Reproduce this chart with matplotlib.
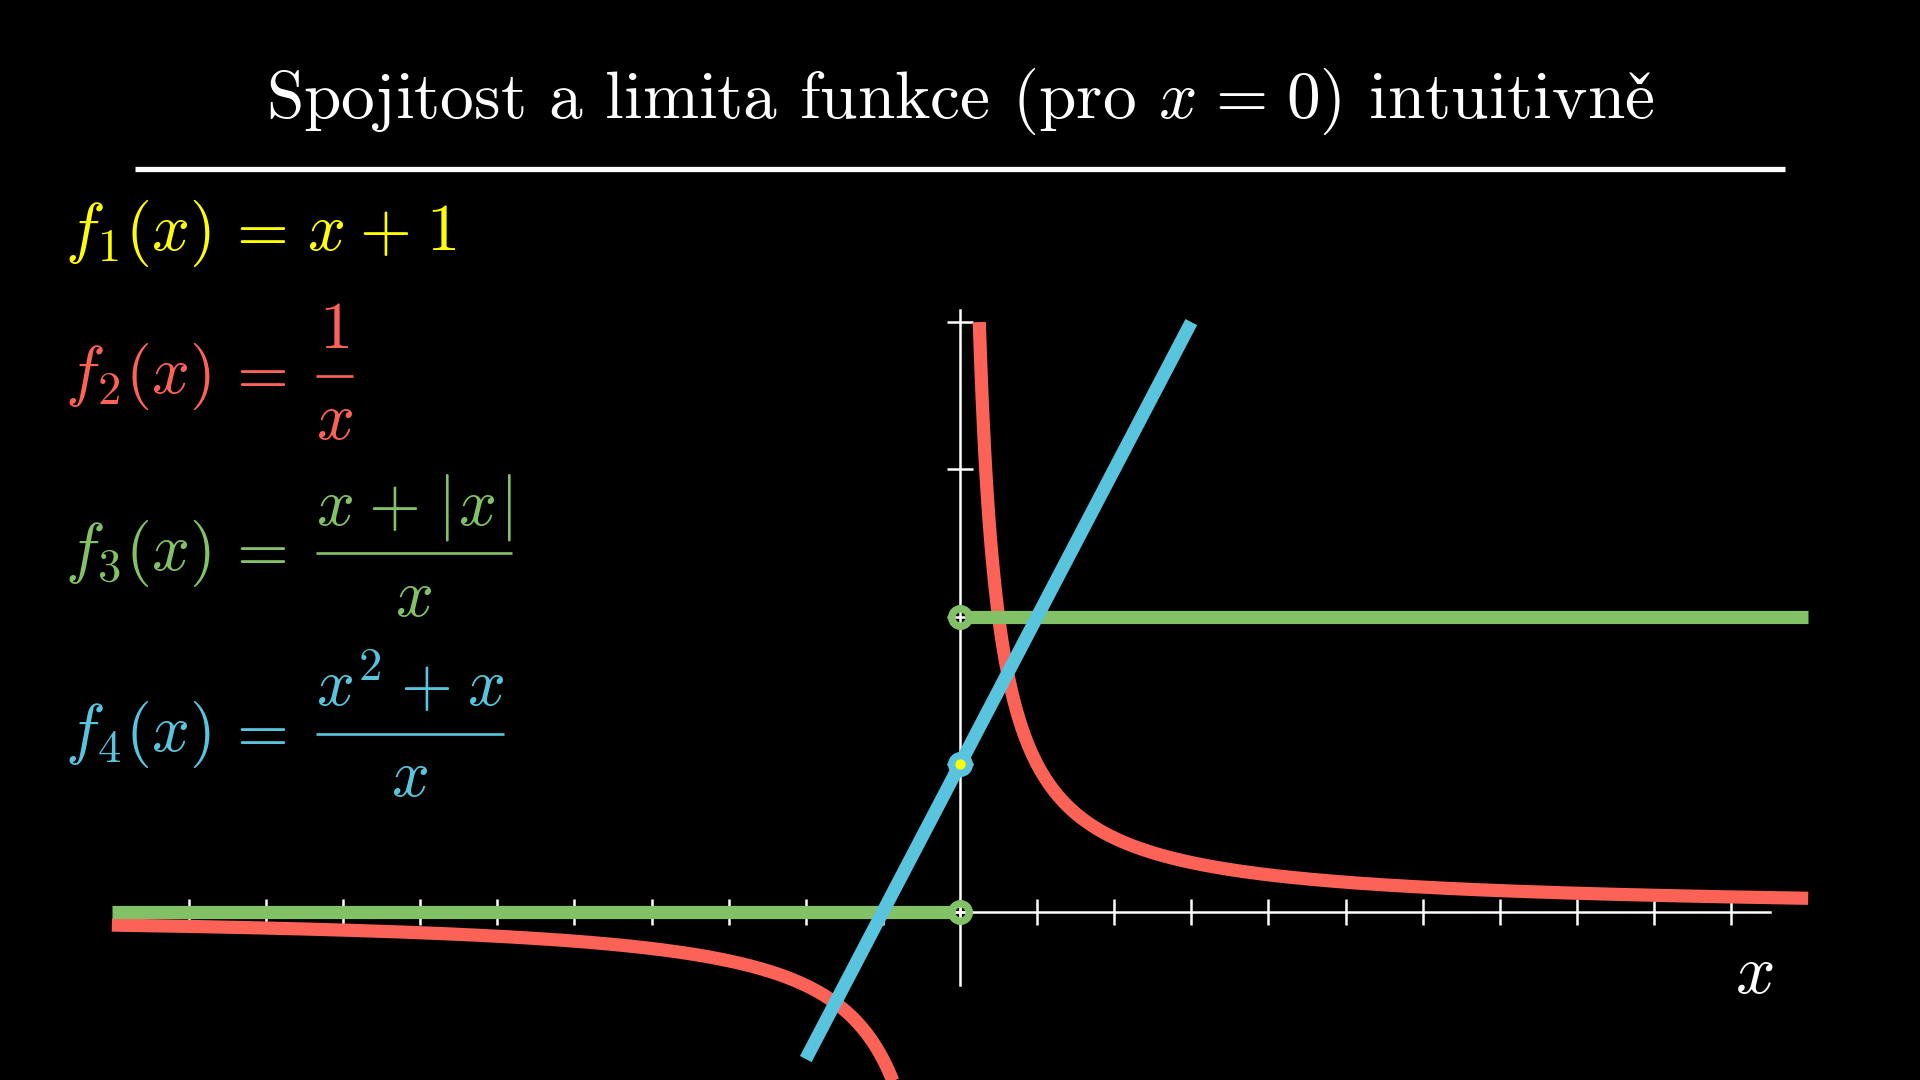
import numpy as np
import matplotlib
matplotlib.use("Agg")
import matplotlib.pyplot as plt
from matplotlib.lines import Line2D

plt.rcParams["mathtext.fontset"] = "cm"

W, H = 1920, 1080

# Colours of the four functions
YELLOW = "#FFFF00"
RED = "#FC6255"
GREEN = "#83C167"
BLUE = "#58C4DD"

# TeX-like spacing helpers (mathtext adds 0.2 of its em around = and +)
REL = r"\hspace{0.116}=\hspace{0.116}"
PLUS = r"\hspace{0.053}+\hspace{0.053}"

# Function definitions shown on the left
lhs = [r"$f_1(x)$", r"$f_2(x)$", r"$f_3(x)$", r"$f_4(x)$"]
rhs_inline = [r"$x" + PLUS + r"1$", None, None, None]
numerators = [None, r"$1$",
              r"$x" + PLUS + r"\hspace{0.03}|\hspace{0.05}x\hspace{0.05}|$",
              r"$x^2" + PLUS + r"x$"]
denominators = [None, r"$x$", r"$x$", r"$x$"]
formula_colors = [YELLOW, RED, GREEN, BLUE]

title = (r"$\text{Spojitost a limita funkce (pro }x" + REL +
         r"0\text{) intuitivne}\check$")

# Plotted domains
x_left = np.linspace(-11, -0.25, 600)
x_right = np.linspace(0.25, 11, 600)
x_line = np.array([-2.0, 3.0])
x_step_left = np.array([-11.0, 0.0])
x_step_right = np.array([0.0, 11.0])

# Axis ticks
x_ticks = list(range(-10, 11))
y_ticks = list(range(0, 5))

# Points at x = 0: open circles (holes) and the filled value of f1
hole_x = [0, 0]
hole_y = [2, 0]
f4_hole = (0, 1)
f1_point = (0, 1)


def fx(px):
    return px / W


def fy(py):
    return 1 - py / H


fig = plt.figure(figsize=(19.2, 10.8), dpi=100, facecolor="black")
ax = fig.add_axes([0, 0, 1, 1])
ax.set_facecolor("black")
ax.set_xlim(-12.45, 12.45)
ax.set_ylim(-1.142, 6.185)

# Axes through the origin
for side in ("top", "right"):
    ax.spines[side].set_visible(False)
for side in ("left", "bottom"):
    sp = ax.spines[side]
    sp.set_position(("data", 0))
    sp.set_color("white")
    sp.set_linewidth(1.8)
    sp.set_zorder(1)
ax.spines["bottom"].set_bounds(-10.5, 10.5)
ax.spines["left"].set_bounds(-0.5, 4.08)
ax.set_xticks(x_ticks)
ax.set_yticks(y_ticks)
ax.tick_params(direction="inout", length=18.7, width=1.8, color="white",
               labelbottom=False, labelleft=False)
ax.set_axisbelow(True)

LW = 9.5
GAP = 0.07  # inner radius of the open circles, in x units

# f2 = 1/x
ax.plot(x_left, 1 / x_left, color=RED, lw=LW, solid_capstyle="butt", zorder=2)
ax.plot(x_right, 1 / x_right, color=RED, lw=LW, solid_capstyle="butt", zorder=2)

# f3 = (x + |x|)/x
xs = x_step_left.copy(); xs[-1] -= GAP
ax.plot(xs, (xs + np.abs(xs)) / xs, color=GREEN, lw=LW, solid_capstyle="butt", zorder=3)
xs = x_step_right.copy(); xs[0] += GAP
ax.plot(xs, (xs + np.abs(xs)) / xs, color=GREEN, lw=LW, solid_capstyle="butt", zorder=3)

# f4 = (x^2 + x)/x  (coincides with f1 = x + 1)
ax.plot(x_line, (x_line ** 2 + x_line) / x_line, color=BLUE, lw=LW,
        solid_capstyle="butt", zorder=4)

# Open circles and filled point
ax.plot(hole_x, hole_y, "o", ms=12.6, mfc="none", mec=GREEN, mew=5.4,
        ls="none", zorder=5)
ax.plot(*f4_hole, "o", ms=12.6, mfc="none", mec=BLUE, mew=5.4, zorder=5)
ax.plot(*f1_point, "o", ms=7.4, mfc=YELLOW, mec="none", zorder=6)

# Axis label
ax.text(10.3, -0.42, r"$x$", color="white", fontsize=50, ha="center", va="center")

# Title and rule
fig.text(0.5, fy(118.3), title, color="white", fontsize=48.5,
         ha="center", va="baseline")
fig.add_artist(Line2D([fx(135), fx(1785)], [fy(168.5)] * 2,
                      color="white", lw=3.8, solid_capstyle="butt"))

# Formulas, laid out piece by piece like displayed TeX
FS = 48
EM = FS * 100 / 72          # em in pixels
AXIS = 0.25 * EM            # math axis above baseline
NUM_UP = 0.677 * EM         # numerator baseline shift
DEN_DOWN = 0.686 * EM       # denominator baseline shift
RULE = 0.04 * EM            # fraction rule thickness
baselines = [250, 393, 570, 750.7]
x_lhs, x_eq, x_rhs, x_bar = 65, 255.5, 307, 315.7

fig.canvas.draw()
renderer = fig.canvas.get_renderer()

for i, col in enumerate(formula_colors):
    base = baselines[i]
    fig.text(fx(x_lhs), fy(base), lhs[i], color=col, fontsize=FS,
             ha="left", va="baseline")
    fig.text(fx(x_eq), fy(base), r"$=$", color=col, fontsize=FS,
             ha="center", va="baseline")
    if rhs_inline[i] is not None:
        fig.text(fx(x_rhs), fy(base), rhs_inline[i], color=col, fontsize=FS,
                 ha="left", va="baseline")
        continue
    t_num = fig.text(0, fy(base - NUM_UP), numerators[i], color=col,
                     fontsize=FS, ha="center", va="baseline")
    t_den = fig.text(0, fy(base + DEN_DOWN), denominators[i], color=col,
                     fontsize=FS, ha="center", va="baseline")
    width = max(t_num.get_window_extent(renderer).width,
                t_den.get_window_extent(renderer).width)
    centre = x_bar + width / 2
    t_num.set_x(fx(centre))
    t_den.set_x(fx(centre))
    fig.add_artist(Line2D([fx(x_bar), fx(x_bar + width)], [fy(base - AXIS)] * 2,
                          color=col, lw=RULE * 72 / 100, solid_capstyle="butt"))

fig.savefig("out.png", dpi=100, facecolor="black")
